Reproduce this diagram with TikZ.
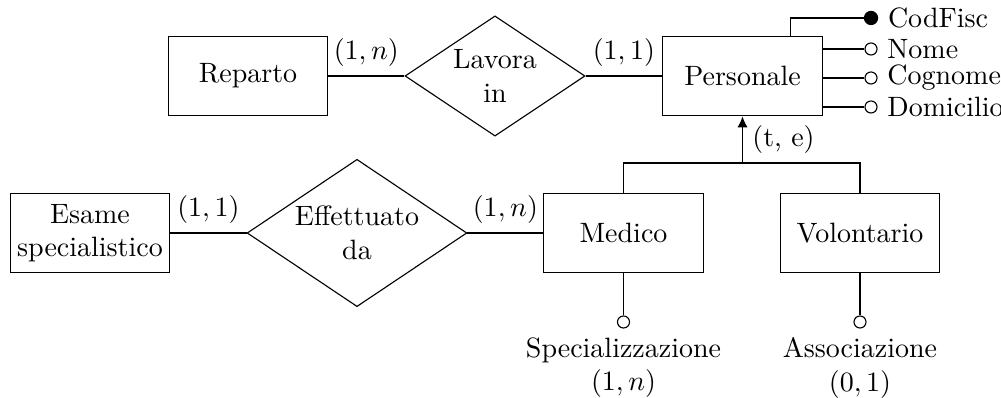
\documentclass[tikz,border=0pt]{standalone}
\usetikzlibrary{shapes.geometric,arrows.meta}
\begin{document}
\begin{tikzpicture}[x=0.012563cm, y=-0.012563cm,
  entity/.style={draw, rectangle, minimum width=2cm, minimum height=1cm, align=center, inner sep=0pt},
  rel/.style={draw, diamond, aspect=1.5, inner sep=0pt, minimum width=2.26cm, minimum height=1.51cm, align=center},
  attr/.style={draw, circle, fill=white, inner sep=0pt, minimum size=4.3pt},
  attrfill/.style={draw, circle, fill=black, inner sep=0pt, minimum size=4.7pt},
  attrlab/.style={anchor=west, inner sep=3.33pt},
  card/.style={above}]
\useasboundingbox (0,0) rectangle (1001,398);
% entities and relationships
\node[entity] (rep) at (248,76) {Reparto};
\node[rel] (lav) at (495,76) {Lavora\\in};
\node[entity] (pers) at (742.5,76) {Personale};
\node[entity] (esame) at (90,233) {Esame\\specialistico};
\node[rel, minimum width=2.76cm, minimum height=1.85cm] (eff) at (357,233) {Effettuato\\da};
\node[entity] (med) at (623.5,233) {Medico};
\node[entity] (vol) at (860,233) {Volontario};
% relationship connectors
\draw (rep) -- node[card]{$(1,n)$} (lav);
\draw (lav) -- node[card]{$(1,1)$} (pers);
\draw (esame) -- node[card]{$(1,1)$} (eff);
\draw (eff) -- node[card]{$(1,n)$} (med);
% generalization
\coordinate (junc) at (742.5,163);
\draw[-{Latex[length=3.9pt,width=3.6pt]}] (junc) -- node[right]{(t, e)} (pers.south);
\draw (med.north) |- (junc) -| (vol.north);
% attributes of Personale
\node[attrfill] (cf) at (871,18) {};
\node[attr] (nome) at (871,49) {};
\node[attr] (cogn) at (871,78) {};
\node[attr] (dom) at (871,107) {};
\node[attrlab] (cft) at (cf.east) {CodFisc};
\node[attrlab] (nomet) at (nome.east) {Nome};
\node[attrlab] (cognt) at (cogn.east) {Cognome};
\node[attrlab] (domt) at (dom.east) {Domicilio};
\draw (pers.north east) ++(-32,0) |- (cf);
\draw (pers.east |- nome) -- (nome);
\draw (pers.east |- cogn) -- (cogn);
\draw (pers.east |- dom) -- (dom);
% attributes of subentities
\node[attr] (spec) at (623.5,322) {};
\node[attr] (assoc) at (860,322) {};
\draw (med) -- (spec);
\draw (vol) -- (assoc);
\node[anchor=north, align=center, inner sep=3pt] (spect) at (spec.south) {Specializzazione\\$(1,n)$};
\node[anchor=north, align=center, inner sep=3pt] (assoct) at (assoc.south) {Associazione\\$(0,1)$};
\end{tikzpicture}
\end{document}
